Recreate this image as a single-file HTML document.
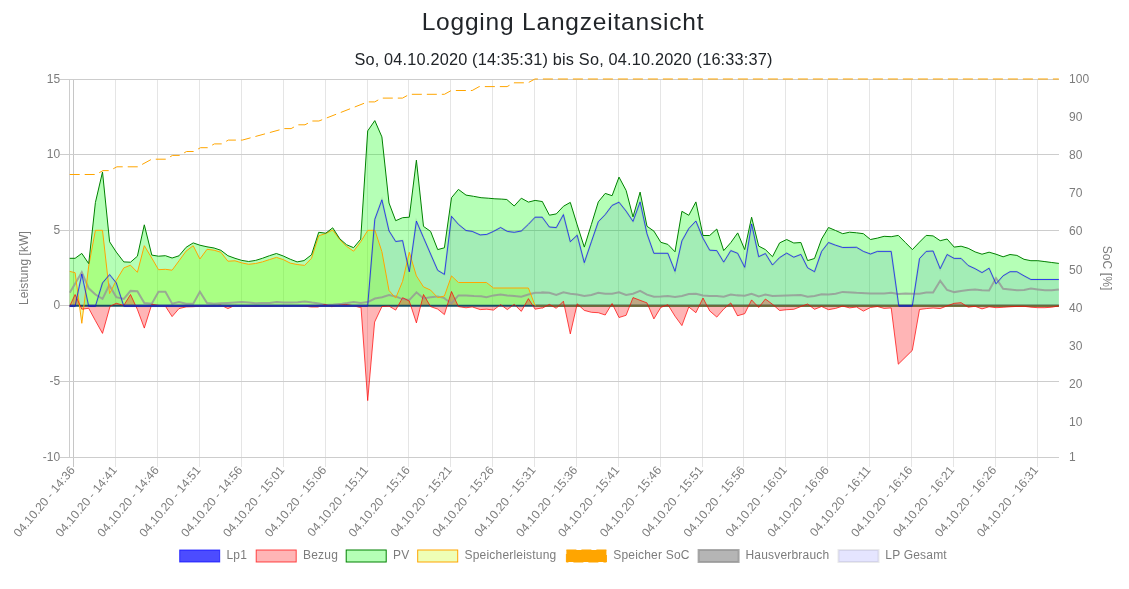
<!DOCTYPE html>
<html lang="de"><head><meta charset="utf-8"><title>Logging Langzeitansicht</title>
<style>
html,body{margin:0;padding:0;background:#fff;}
body{width:1129px;height:589px;overflow:hidden;position:relative;font-family:"Liberation Sans",sans-serif;color:#212529;}
#title{position:absolute;left:0;top:4.5px;width:1126px;text-align:center;font-size:24.5px;letter-spacing:0.8px;line-height:34px;white-space:nowrap;}
#sub{position:absolute;left:0;top:48.4px;width:1127px;text-align:center;font-size:16.3px;letter-spacing:0.18px;line-height:22px;white-space:nowrap;}
svg{position:absolute;left:0;top:0;}
#title,#sub,svg{will-change:transform;}
svg text{font-family:"Liberation Sans",sans-serif;font-size:12px;fill:#7c7c7c;letter-spacing:0.1px;}
</style></head><body>
<div id="title">Logging Langzeitansicht</div>
<div id="sub">So, 04.10.2020 (14:35:31) bis So, 04.10.2020 (16:33:37)</div>
<svg width="1129" height="589" viewBox="0 0 1129 589">
<g stroke="rgba(0,0,0,0.1)" stroke-width="1" fill="none" shape-rendering="crispEdges">
<line x1="73.5" y1="79.0" x2="73.5" y2="467.0" stroke="#c6c6c6"/>
<line x1="115.5" y1="79.0" x2="115.5" y2="467.0"/>
<line x1="157.5" y1="79.0" x2="157.5" y2="467.0"/>
<line x1="199.5" y1="79.0" x2="199.5" y2="467.0"/>
<line x1="241.5" y1="79.0" x2="241.5" y2="467.0"/>
<line x1="283.5" y1="79.0" x2="283.5" y2="467.0"/>
<line x1="325.5" y1="79.0" x2="325.5" y2="467.0"/>
<line x1="367.5" y1="79.0" x2="367.5" y2="467.0"/>
<line x1="408.5" y1="79.0" x2="408.5" y2="467.0"/>
<line x1="450.5" y1="79.0" x2="450.5" y2="467.0"/>
<line x1="492.5" y1="79.0" x2="492.5" y2="467.0"/>
<line x1="534.5" y1="79.0" x2="534.5" y2="467.0"/>
<line x1="576.5" y1="79.0" x2="576.5" y2="467.0"/>
<line x1="618.5" y1="79.0" x2="618.5" y2="467.0"/>
<line x1="660.5" y1="79.0" x2="660.5" y2="467.0"/>
<line x1="702.5" y1="79.0" x2="702.5" y2="467.0"/>
<line x1="743.5" y1="79.0" x2="743.5" y2="467.0"/>
<line x1="785.5" y1="79.0" x2="785.5" y2="467.0"/>
<line x1="827.5" y1="79.0" x2="827.5" y2="467.0"/>
<line x1="869.5" y1="79.0" x2="869.5" y2="467.0"/>
<line x1="911.5" y1="79.0" x2="911.5" y2="467.0"/>
<line x1="953.5" y1="79.0" x2="953.5" y2="467.0"/>
<line x1="995.5" y1="79.0" x2="995.5" y2="467.0"/>
<line x1="1037.5" y1="79.0" x2="1037.5" y2="467.0"/>
<line x1="69.5" y1="79.0" x2="69.5" y2="457.5" stroke="#cdcdcd"/>
<line x1="59.5" y1="79.5" x2="1059.0" y2="79.5" stroke="#cdcdcd"/>
<line x1="59.5" y1="154.5" x2="1059.0" y2="154.5" stroke="#cdcdcd"/>
<line x1="59.5" y1="230.5" x2="1059.0" y2="230.5" stroke="#cdcdcd"/>
<line x1="59.5" y1="305.5" x2="1059.0" y2="305.5" stroke="#cdcdcd"/>
<line x1="59.5" y1="381.5" x2="1059.0" y2="381.5" stroke="#cdcdcd"/>
<line x1="59.5" y1="457.5" x2="1059.0" y2="457.5" stroke="#cdcdcd"/>
</g>
<clipPath id="ca"><rect x="68.9" y="78.0" width="991.1" height="380.0"/></clipPath><g clip-path="url(#ca)">
<polygon points="69.7,305.8 69.7,306.2 75.1,306.2 81.8,274.1 88.7,306.2 95.4,306.2 102.5,282.9 109.6,274.6 116.3,282.9 123.8,306.2 367.7,305.7 374.8,219.3 381.9,199.8 389.0,230.8 395.7,241.5 402.6,240.6 409.3,271.8 416.4,221.1 423.5,237.6 430.6,254.0 437.7,270.3 444.4,274.4 451.5,216.3 458.4,224.3 466.0,230.5 472.2,231.4 480.2,234.9 486.8,234.4 493.5,231.4 500.6,227.5 507.3,231.4 514.2,232.3 521.3,231.0 528.4,224.3 535.1,217.2 542.2,217.2 549.4,227.0 556.3,227.6 563.4,214.6 570.3,241.7 577.2,235.2 584.3,262.6 591.4,241.7 598.3,221.7 605.2,214.6 612.1,205.4 619.0,202.2 626.1,211.1 633.0,221.4 640.1,201.9 647.0,233.8 653.9,253.3 660.8,253.3 667.9,253.3 675.0,271.3 681.9,240.9 688.8,228.5 695.9,221.0 703.0,238.2 709.7,250.2 716.8,250.6 723.7,262.1 730.8,250.6 737.7,253.3 744.7,267.3 751.6,223.9 758.7,256.7 765.4,253.5 772.5,265.0 779.6,257.6 786.7,253.1 793.8,257.2 800.9,254.4 807.6,267.8 814.5,271.7 821.6,251.4 828.5,242.5 835.6,245.2 842.7,247.5 856.5,247.3 863.4,251.4 870.5,254.0 877.4,251.4 891.2,251.4 898.8,305.9 912.3,305.9 919.5,258.6 926.2,251.4 933.1,251.0 940.2,268.7 947.1,254.5 954.2,258.4 961.1,258.4 968.2,265.5 975.1,268.7 982.0,272.6 989.1,268.2 996.0,283.8 1003.1,275.8 1010.0,271.7 1016.9,271.7 1024.0,275.8 1030.9,279.5 1058.9,279.5 1058.9,305.8" fill="rgba(0,0,255,0.10)" stroke="none"/>
<polygon points="69.7,305.8 69.7,271.4 75.1,272.7 81.8,323.3 88.7,266.1 95.4,230.3 102.5,230.3 109.6,293.6 116.3,280.3 123.8,267.9 130.5,265.2 137.4,272.3 144.3,245.7 151.8,258.1 158.5,269.7 165.4,269.3 172.1,270.2 179.0,260.8 186.1,251.1 193.2,245.7 199.9,259.0 207.0,249.3 214.1,250.2 220.9,252.3 227.9,261.2 235.0,260.8 241.8,262.9 248.7,264.3 255.6,263.5 262.4,261.9 269.5,259.6 276.4,257.4 283.3,259.6 290.2,263.1 297.1,264.5 304.6,265.4 311.5,258.3 318.7,235.8 325.8,233.5 332.7,230.0 339.8,239.7 346.5,246.3 353.6,251.2 360.7,241.8 367.8,230.3 374.9,230.3 381.9,251.7 389.0,290.5 395.7,298.1 402.6,281.3 409.3,252.3 416.4,275.9 423.5,286.9 430.6,290.1 437.7,297.6 444.4,296.0 451.5,275.9 458.4,282.5 486.4,282.5 493.5,288.0 528.4,288.0 535.1,305.7 1058.9,306.0 1058.9,305.8" fill="rgba(200,255,13,0.3)" stroke="none"/>
<polygon points="69.7,305.8 69.7,258.3 75.1,258.3 81.8,253.4 88.7,263.6 95.4,202.5 102.5,172.0 109.6,241.8 116.3,252.1 123.8,261.9 130.5,262.2 137.4,256.2 144.3,224.8 151.8,255.1 158.5,256.2 165.4,255.7 172.1,258.0 179.0,255.8 186.1,247.3 193.2,242.9 199.9,245.2 207.0,246.8 214.1,248.0 220.9,250.3 227.9,255.7 235.0,258.3 241.8,260.4 248.7,261.5 255.6,260.4 262.4,258.3 269.5,255.7 276.4,253.5 283.3,256.0 290.2,259.2 297.1,261.9 304.0,260.6 311.5,254.8 318.7,232.3 325.8,233.2 332.7,227.8 339.8,238.8 346.5,244.7 353.6,247.7 360.7,239.2 367.7,130.9 374.8,120.6 381.9,136.9 389.0,203.0 395.7,220.7 402.6,217.7 409.3,217.2 416.4,160.1 423.5,226.4 430.6,231.4 437.7,249.6 444.4,247.8 451.5,197.7 458.4,189.4 466.0,195.1 473.5,196.3 481.1,197.7 488.2,198.2 494.9,198.8 501.8,199.1 506.8,199.5 514.2,206.0 521.3,198.2 528.4,202.1 535.1,200.4 542.1,201.5 542.2,201.3 549.4,215.2 556.3,213.9 563.4,206.3 570.3,202.4 577.2,224.9 584.3,247.1 591.4,224.4 598.3,201.9 605.2,193.4 612.1,195.7 619.0,177.1 626.1,190.4 633.0,216.9 640.1,192.1 647.0,226.3 653.9,231.1 660.8,242.3 667.9,244.4 675.0,251.8 681.9,211.3 688.8,215.3 695.9,201.9 703.0,235.5 709.7,235.5 716.8,229.0 723.7,250.6 730.8,242.6 737.7,232.9 744.7,249.6 751.6,217.2 758.7,246.1 765.4,249.6 772.5,256.7 779.6,242.9 786.7,239.5 793.8,243.0 800.9,242.5 807.6,260.6 814.5,258.5 821.6,239.0 828.5,227.5 835.6,230.5 842.7,233.7 849.6,232.2 856.5,232.8 863.4,233.7 870.5,239.5 877.4,238.1 884.1,236.3 891.2,236.7 898.3,235.4 905.4,242.5 912.4,249.6 919.5,242.1 926.2,235.4 933.1,235.9 940.2,240.7 947.1,239.0 954.2,247.1 961.1,246.2 968.2,248.3 975.1,251.9 982.0,254.2 989.1,252.2 996.0,254.2 1003.1,256.8 1010.0,254.5 1016.9,255.4 1024.0,259.3 1030.9,260.7 1037.8,260.7 1044.9,261.6 1051.8,262.5 1058.9,263.4 1058.9,305.8" fill="rgba(10,255,13,0.3)" stroke="none"/>
<polygon points="69.7,305.8 69.7,306.2 75.1,294.5 81.8,309.2 88.7,308.3 95.4,320.7 102.5,333.4 110.1,306.2 116.3,303.3 123.8,305.4 130.5,294.5 137.4,309.5 144.3,328.1 151.8,304.2 158.5,305.4 165.4,306.2 172.1,316.6 179.0,308.6 186.1,306.9 193.2,306.7 199.9,306.2 207.0,306.2 214.1,305.8 220.9,305.1 227.9,308.6 235.0,305.4 241.8,305.8 248.7,306.2 255.6,306.2 262.4,305.6 269.5,306.0 276.4,305.6 283.3,305.6 290.2,305.6 297.1,305.6 304.0,306.0 311.1,307.0 318.0,307.0 324.9,304.4 331.8,306.7 338.8,305.3 345.8,304.4 352.7,305.6 359.7,307.4 361.0,307.1 367.7,400.6 374.6,322.1 381.9,306.6 389.0,306.1 395.7,310.1 402.6,297.7 409.3,301.1 416.4,322.9 423.5,294.5 430.6,306.6 437.7,309.1 444.4,314.6 451.5,291.5 458.4,306.6 466.0,307.8 472.2,306.9 480.2,309.6 486.8,309.2 493.5,310.1 500.6,304.6 507.3,309.6 514.2,304.3 521.3,311.4 528.4,298.6 535.1,309.2 542.1,307.9 542.2,308.2 549.4,304.4 556.3,308.3 563.4,301.2 570.3,333.9 577.2,303.8 584.3,310.4 591.4,312.3 598.3,312.7 605.2,315.0 612.1,303.5 619.0,317.5 626.1,315.3 633.0,297.6 640.1,300.3 647.0,302.9 653.9,318.9 660.8,307.4 667.9,304.7 675.0,316.2 681.9,325.6 688.8,307.0 695.9,312.7 703.0,298.0 709.7,310.9 716.8,317.1 723.7,309.1 730.8,302.9 737.6,315.9 737.7,315.7 744.7,313.7 751.6,299.9 758.7,307.5 765.4,299.0 772.5,304.3 779.6,310.5 786.7,309.7 793.8,309.3 800.9,306.5 807.6,304.0 814.5,309.3 821.6,306.5 828.5,309.7 835.6,308.4 842.7,306.1 849.6,307.9 856.5,307.0 863.4,311.1 870.5,307.5 877.4,306.5 884.1,308.4 891.2,307.9 898.3,364.2 912.3,350.4 919.5,309.5 926.2,308.6 933.1,308.0 940.2,308.6 947.1,305.9 954.2,303.3 961.1,302.7 968.2,307.2 975.1,306.3 982.0,308.9 989.1,306.8 996.0,307.7 1003.1,307.3 1010.0,306.8 1016.9,306.4 1024.0,306.3 1030.9,307.2 1037.8,307.7 1044.9,307.7 1051.8,307.2 1058.9,305.9 1058.9,305.8" fill="rgba(255,10,13,0.3)" stroke="none"/>
<polyline points="69.7,306.2 75.1,306.2 81.8,274.1 88.7,306.2 95.4,306.2 102.5,282.9 109.6,274.6 116.3,282.9 123.8,306.2 367.7,305.7 374.8,219.3 381.9,199.8 389.0,230.8 395.7,241.5 402.6,240.6 409.3,271.8 416.4,221.1 423.5,237.6 430.6,254.0 437.7,270.3 444.4,274.4 451.5,216.3 458.4,224.3 466.0,230.5 472.2,231.4 480.2,234.9 486.8,234.4 493.5,231.4 500.6,227.5 507.3,231.4 514.2,232.3 521.3,231.0 528.4,224.3 535.1,217.2 542.2,217.2 549.4,227.0 556.3,227.6 563.4,214.6 570.3,241.7 577.2,235.2 584.3,262.6 591.4,241.7 598.3,221.7 605.2,214.6 612.1,205.4 619.0,202.2 626.1,211.1 633.0,221.4 640.1,201.9 647.0,233.8 653.9,253.3 660.8,253.3 667.9,253.3 675.0,271.3 681.9,240.9 688.8,228.5 695.9,221.0 703.0,238.2 709.7,250.2 716.8,250.6 723.7,262.1 730.8,250.6 737.7,253.3 744.7,267.3 751.6,223.9 758.7,256.7 765.4,253.5 772.5,265.0 779.6,257.6 786.7,253.1 793.8,257.2 800.9,254.4 807.6,267.8 814.5,271.7 821.6,251.4 828.5,242.5 835.6,245.2 842.7,247.5 856.5,247.3 863.4,251.4 870.5,254.0 877.4,251.4 891.2,251.4 898.8,305.9 912.3,305.9 919.5,258.6 926.2,251.4 933.1,251.0 940.2,268.7 947.1,254.5 954.2,258.4 961.1,258.4 968.2,265.5 975.1,268.7 982.0,272.6 989.1,268.2 996.0,283.8 1003.1,275.8 1010.0,271.7 1016.9,271.7 1024.0,275.8 1030.9,279.5 1058.9,279.5" fill="none" stroke="rgba(50,50,55,0.1)" stroke-width="2" stroke-linejoin="miter"/>
<polyline points="69.7,292.7 75.1,283.8 81.8,272.3 88.7,288.3 95.4,294.5 102.5,298.9 109.2,285.2 116.3,297.1 123.8,298.9 130.5,290.9 137.4,291.3 144.3,303.0 151.8,303.7 158.5,291.8 165.4,291.8 172.1,303.7 179.0,302.1 186.1,303.7 193.2,303.7 199.9,291.8 207.0,303.0 214.1,303.7 220.9,303.3 227.9,303.0 235.0,302.6 241.8,302.1 248.7,302.4 255.6,303.3 262.4,303.0 269.5,303.1 276.6,302.1 283.7,302.4 290.7,302.6 297.8,302.2 304.9,301.4 312.0,302.6 319.1,303.5 326.2,304.9 333.3,304.6 342.1,303.8 347.4,303.1 353.6,302.1 360.7,303.1 367.8,302.1 374.9,298.5 382.0,297.3 389.1,295.0 395.6,296.4 402.3,299.1 409.4,299.9 416.5,292.3 423.6,298.5 430.3,297.3 437.8,296.4 444.4,298.1 444.5,298.5 451.5,303.4 458.4,295.4 466.0,295.4 474.0,296.0 481.1,296.3 486.4,297.2 493.5,295.4 500.6,294.5 507.3,295.4 514.2,296.0 521.3,296.8 528.4,294.5 535.1,292.8 542.1,292.7 542.2,292.4 549.4,292.7 556.3,295.0 563.4,292.3 570.3,293.7 577.2,294.4 584.3,295.9 591.4,295.0 598.3,292.8 605.2,293.7 612.1,293.7 619.0,292.3 626.1,295.0 633.0,293.7 640.1,290.9 647.0,294.6 653.9,296.7 660.8,296.4 667.9,295.9 675.0,297.1 681.9,295.9 688.8,294.1 695.9,293.7 703.0,295.5 709.7,295.9 716.8,295.9 723.7,296.7 730.8,294.6 737.6,295.5 737.7,295.3 744.7,295.8 751.6,293.7 758.7,296.4 765.4,294.6 772.5,296.0 786.7,295.5 800.9,295.1 807.6,296.7 814.5,296.0 821.6,294.2 828.5,294.6 835.6,293.7 842.7,291.9 856.5,292.8 870.5,293.4 884.1,293.4 891.2,292.8 898.3,294.1 905.4,293.4 912.3,293.7 919.5,293.7 926.2,292.6 933.1,292.6 940.2,280.8 947.1,290.0 954.2,292.1 961.1,290.9 968.2,290.0 975.1,289.6 982.0,290.3 989.1,290.5 996.0,278.1 1003.1,288.7 1010.0,289.4 1016.9,290.3 1024.0,290.0 1030.9,288.6 1037.8,289.4 1044.9,290.3 1051.8,290.3 1058.9,289.4" fill="none" stroke="rgba(150,150,150,0.8)" stroke-width="2" stroke-linejoin="miter"/>
<polyline points="69.7,174.5 96.0,174.5 103.0,170.6 109.9,170.6 116.9,166.8 137.8,166.8 151.7,159.2 165.7,159.2 172.6,155.4 179.6,155.4 186.6,151.5 193.5,151.5 200.5,147.7 207.5,147.7 214.4,143.9 221.4,143.9 228.4,140.1 242.3,140.1 284.1,128.6 291.1,128.6 298.0,124.8 305.0,124.8 312.0,121.0 318.9,121.0 367.7,101.9 374.7,101.9 381.6,98.1 402.5,98.1 409.5,94.3 444.4,94.3 451.3,90.5 472.2,90.5 479.2,86.6 507.1,86.6 514.0,82.8 528.0,82.8 534.9,79.0 1058.8,79.0" fill="none" stroke="orange" stroke-width="1" stroke-linejoin="miter" stroke-dasharray="10,5"/>
<polyline points="69.7,305.8 1058.9,305.8" fill="none" stroke="rgb(22,78,98)" stroke-width="2" stroke-linejoin="miter"/>
<polyline points="69.7,271.4 75.1,272.7 81.8,323.3 88.7,266.1 95.4,230.3 102.5,230.3 109.6,293.6 116.3,280.3 123.8,267.9 130.5,265.2 137.4,272.3 144.3,245.7 151.8,258.1 158.5,269.7 165.4,269.3 172.1,270.2 179.0,260.8 186.1,251.1 193.2,245.7 199.9,259.0 207.0,249.3 214.1,250.2 220.9,252.3 227.9,261.2 235.0,260.8 241.8,262.9 248.7,264.3 255.6,263.5 262.4,261.9 269.5,259.6 276.4,257.4 283.3,259.6 290.2,263.1 297.1,264.5 304.6,265.4 311.5,258.3 318.7,235.8 325.8,233.5 332.7,230.0 339.8,239.7 346.5,246.3 353.6,251.2 360.7,241.8 367.8,230.3 374.9,230.3 381.9,251.7 389.0,290.5 395.7,298.1 402.6,281.3 409.3,252.3 416.4,275.9 423.5,286.9 430.6,290.1 437.7,297.6 444.4,296.0 451.5,275.9 458.4,282.5 486.4,282.5 493.5,288.0 528.4,288.0 535.1,305.7 1058.9,306.0" fill="none" stroke="orange" stroke-width="1" stroke-linejoin="miter"/>
<polyline points="535.6,305.8 1058.9,305.8" fill="none" stroke="rgb(108,104,58)" stroke-width="2" stroke-linejoin="miter"/>
<polyline points="69.7,258.3 75.1,258.3 81.8,253.4 88.7,263.6 95.4,202.5 102.5,172.0 109.6,241.8 116.3,252.1 123.8,261.9 130.5,262.2 137.4,256.2 144.3,224.8 151.8,255.1 158.5,256.2 165.4,255.7 172.1,258.0 179.0,255.8 186.1,247.3 193.2,242.9 199.9,245.2 207.0,246.8 214.1,248.0 220.9,250.3 227.9,255.7 235.0,258.3 241.8,260.4 248.7,261.5 255.6,260.4 262.4,258.3 269.5,255.7 276.4,253.5 283.3,256.0 290.2,259.2 297.1,261.9 304.0,260.6 311.5,254.8 318.7,232.3 325.8,233.2 332.7,227.8 339.8,238.8 346.5,244.7 353.6,247.7 360.7,239.2 367.7,130.9 374.8,120.6 381.9,136.9 389.0,203.0 395.7,220.7 402.6,217.7 409.3,217.2 416.4,160.1 423.5,226.4 430.6,231.4 437.7,249.6 444.4,247.8 451.5,197.7 458.4,189.4 466.0,195.1 473.5,196.3 481.1,197.7 488.2,198.2 494.9,198.8 501.8,199.1 506.8,199.5 514.2,206.0 521.3,198.2 528.4,202.1 535.1,200.4 542.1,201.5 542.2,201.3 549.4,215.2 556.3,213.9 563.4,206.3 570.3,202.4 577.2,224.9 584.3,247.1 591.4,224.4 598.3,201.9 605.2,193.4 612.1,195.7 619.0,177.1 626.1,190.4 633.0,216.9 640.1,192.1 647.0,226.3 653.9,231.1 660.8,242.3 667.9,244.4 675.0,251.8 681.9,211.3 688.8,215.3 695.9,201.9 703.0,235.5 709.7,235.5 716.8,229.0 723.7,250.6 730.8,242.6 737.7,232.9 744.7,249.6 751.6,217.2 758.7,246.1 765.4,249.6 772.5,256.7 779.6,242.9 786.7,239.5 793.8,243.0 800.9,242.5 807.6,260.6 814.5,258.5 821.6,239.0 828.5,227.5 835.6,230.5 842.7,233.7 849.6,232.2 856.5,232.8 863.4,233.7 870.5,239.5 877.4,238.1 884.1,236.3 891.2,236.7 898.3,235.4 905.4,242.5 912.4,249.6 919.5,242.1 926.2,235.4 933.1,235.9 940.2,240.7 947.1,239.0 954.2,247.1 961.1,246.2 968.2,248.3 975.1,251.9 982.0,254.2 989.1,252.2 996.0,254.2 1003.1,256.8 1010.0,254.5 1016.9,255.4 1024.0,259.3 1030.9,260.7 1037.8,260.7 1044.9,261.6 1051.8,262.5 1058.9,263.4" fill="none" stroke="green" stroke-width="1" stroke-linejoin="miter"/>
<polyline points="69.7,306.2 75.1,294.5 81.8,309.2 88.7,308.3 95.4,320.7 102.5,333.4 110.1,306.2 116.3,303.3 123.8,305.4 130.5,294.5 137.4,309.5 144.3,328.1 151.8,304.2 158.5,305.4 165.4,306.2 172.1,316.6 179.0,308.6 186.1,306.9 193.2,306.7 199.9,306.2 207.0,306.2 214.1,305.8 220.9,305.1 227.9,308.6 235.0,305.4 241.8,305.8 248.7,306.2 255.6,306.2 262.4,305.6 269.5,306.0 276.4,305.6 283.3,305.6 290.2,305.6 297.1,305.6 304.0,306.0 311.1,307.0 318.0,307.0 324.9,304.4 331.8,306.7 338.8,305.3 345.8,304.4 352.7,305.6 359.7,307.4 361.0,307.1 367.7,400.6 374.6,322.1 381.9,306.6 389.0,306.1 395.7,310.1 402.6,297.7 409.3,301.1 416.4,322.9 423.5,294.5 430.6,306.6 437.7,309.1 444.4,314.6 451.5,291.5 458.4,306.6 466.0,307.8 472.2,306.9 480.2,309.6 486.8,309.2 493.5,310.1 500.6,304.6 507.3,309.6 514.2,304.3 521.3,311.4 528.4,298.6 535.1,309.2 542.1,307.9 542.2,308.2 549.4,304.4 556.3,308.3 563.4,301.2 570.3,333.9 577.2,303.8 584.3,310.4 591.4,312.3 598.3,312.7 605.2,315.0 612.1,303.5 619.0,317.5 626.1,315.3 633.0,297.6 640.1,300.3 647.0,302.9 653.9,318.9 660.8,307.4 667.9,304.7 675.0,316.2 681.9,325.6 688.8,307.0 695.9,312.7 703.0,298.0 709.7,310.9 716.8,317.1 723.7,309.1 730.8,302.9 737.6,315.9 737.7,315.7 744.7,313.7 751.6,299.9 758.7,307.5 765.4,299.0 772.5,304.3 779.6,310.5 786.7,309.7 793.8,309.3 800.9,306.5 807.6,304.0 814.5,309.3 821.6,306.5 828.5,309.7 835.6,308.4 842.7,306.1 849.6,307.9 856.5,307.0 863.4,311.1 870.5,307.5 877.4,306.5 884.1,308.4 891.2,307.9 898.3,364.2 912.3,350.4 919.5,309.5 926.2,308.6 933.1,308.0 940.2,308.6 947.1,305.9 954.2,303.3 961.1,302.7 968.2,307.2 975.1,306.3 982.0,308.9 989.1,306.8 996.0,307.7 1003.1,307.3 1010.0,306.8 1016.9,306.4 1024.0,306.3 1030.9,307.2 1037.8,307.7 1044.9,307.7 1051.8,307.2 1058.9,305.9" fill="none" stroke="rgba(255,0,0,0.7)" stroke-width="1" stroke-linejoin="miter"/>
<polyline points="69.7,306.2 75.1,306.2 81.8,274.1 88.7,306.2 95.4,306.2 102.5,282.9 109.6,274.6 116.3,282.9 123.8,306.2 367.7,305.7 374.8,219.3 381.9,199.8 389.0,230.8 395.7,241.5 402.6,240.6 409.3,271.8 416.4,221.1 423.5,237.6 430.6,254.0 437.7,270.3 444.4,274.4 451.5,216.3 458.4,224.3 466.0,230.5 472.2,231.4 480.2,234.9 486.8,234.4 493.5,231.4 500.6,227.5 507.3,231.4 514.2,232.3 521.3,231.0 528.4,224.3 535.1,217.2 542.2,217.2 549.4,227.0 556.3,227.6 563.4,214.6 570.3,241.7 577.2,235.2 584.3,262.6 591.4,241.7 598.3,221.7 605.2,214.6 612.1,205.4 619.0,202.2 626.1,211.1 633.0,221.4 640.1,201.9 647.0,233.8 653.9,253.3 660.8,253.3 667.9,253.3 675.0,271.3 681.9,240.9 688.8,228.5 695.9,221.0 703.0,238.2 709.7,250.2 716.8,250.6 723.7,262.1 730.8,250.6 737.7,253.3 744.7,267.3 751.6,223.9 758.7,256.7 765.4,253.5 772.5,265.0 779.6,257.6 786.7,253.1 793.8,257.2 800.9,254.4 807.6,267.8 814.5,271.7 821.6,251.4 828.5,242.5 835.6,245.2 842.7,247.5 856.5,247.3 863.4,251.4 870.5,254.0 877.4,251.4 891.2,251.4 898.8,305.9 912.3,305.9 919.5,258.6 926.2,251.4 933.1,251.0 940.2,268.7 947.1,254.5 954.2,258.4 961.1,258.4 968.2,265.5 975.1,268.7 982.0,272.6 989.1,268.2 996.0,283.8 1003.1,275.8 1010.0,271.7 1016.9,271.7 1024.0,275.8 1030.9,279.5 1058.9,279.5" fill="none" stroke="rgba(0,0,255,0.7)" stroke-width="1" stroke-linejoin="miter"/>
<polyline points="69.7,305.8 75.1,305.8" fill="none" stroke="rgb(34,46,165)" stroke-width="2" stroke-linejoin="miter"/>
<polyline points="88.9,305.8 95.6,305.8" fill="none" stroke="rgb(34,46,165)" stroke-width="2" stroke-linejoin="miter"/>
<polyline points="123.9,305.8 367.7,305.8" fill="none" stroke="rgb(34,46,165)" stroke-width="2" stroke-linejoin="miter"/>
<polyline points="898.8,305.8 912.3,305.8" fill="none" stroke="rgb(34,46,165)" stroke-width="2" stroke-linejoin="miter"/>
</g>
<g text-anchor="end">
<text x="60.300000000000004" y="83.0">15</text>
<text x="60.300000000000004" y="157.8">10</text>
<text x="60.300000000000004" y="234.2">5</text>
<text x="60.300000000000004" y="309.4">0</text>
<text x="60.300000000000004" y="385.4">-5</text>
<text x="60.300000000000004" y="461.0">-10</text>
</g><g text-anchor="start">
<text x="1069.0" y="83.1">100</text>
<text x="1069.0" y="121.2">90</text>
<text x="1069.0" y="159.2">80</text>
<text x="1069.0" y="197.3">70</text>
<text x="1069.0" y="235.3">60</text>
<text x="1069.0" y="274.4">50</text>
<text x="1069.0" y="311.5">40</text>
<text x="1069.0" y="349.5">30</text>
<text x="1069.0" y="387.6">20</text>
<text x="1069.0" y="425.6">10</text>
<text x="1069.0" y="461.1">1</text>
</g>
<text text-anchor="middle" transform="translate(28,268) rotate(-90)">Leistung [kW]</text>
<text text-anchor="middle" transform="translate(1103.3,268) rotate(90)">SoC [%]</text>
<g text-anchor="end">
<text transform="translate(72.6,467.8) rotate(-50)" dy="4" style="letter-spacing:0.04px">04.10.20 - 14:36</text>
<text transform="translate(114.5,467.8) rotate(-50)" dy="4" style="letter-spacing:0.04px">04.10.20 - 14:41</text>
<text transform="translate(156.4,467.8) rotate(-50)" dy="4" style="letter-spacing:0.04px">04.10.20 - 14:46</text>
<text transform="translate(198.3,467.8) rotate(-50)" dy="4" style="letter-spacing:0.04px">04.10.20 - 14:51</text>
<text transform="translate(240.1,467.8) rotate(-50)" dy="4" style="letter-spacing:0.04px">04.10.20 - 14:56</text>
<text transform="translate(282.0,467.8) rotate(-50)" dy="4" style="letter-spacing:0.04px">04.10.20 - 15:01</text>
<text transform="translate(323.9,467.8) rotate(-50)" dy="4" style="letter-spacing:0.04px">04.10.20 - 15:06</text>
<text transform="translate(365.8,467.8) rotate(-50)" dy="4" style="letter-spacing:0.04px">04.10.20 - 15:11</text>
<text transform="translate(407.6,467.8) rotate(-50)" dy="4" style="letter-spacing:0.04px">04.10.20 - 15:16</text>
<text transform="translate(449.5,467.8) rotate(-50)" dy="4" style="letter-spacing:0.04px">04.10.20 - 15:21</text>
<text transform="translate(491.4,467.8) rotate(-50)" dy="4" style="letter-spacing:0.04px">04.10.20 - 15:26</text>
<text transform="translate(533.3,467.8) rotate(-50)" dy="4" style="letter-spacing:0.04px">04.10.20 - 15:31</text>
<text transform="translate(575.1,467.8) rotate(-50)" dy="4" style="letter-spacing:0.04px">04.10.20 - 15:36</text>
<text transform="translate(617.0,467.8) rotate(-50)" dy="4" style="letter-spacing:0.04px">04.10.20 - 15:41</text>
<text transform="translate(658.9,467.8) rotate(-50)" dy="4" style="letter-spacing:0.04px">04.10.20 - 15:46</text>
<text transform="translate(700.8,467.8) rotate(-50)" dy="4" style="letter-spacing:0.04px">04.10.20 - 15:51</text>
<text transform="translate(742.6,467.8) rotate(-50)" dy="4" style="letter-spacing:0.04px">04.10.20 - 15:56</text>
<text transform="translate(784.5,467.8) rotate(-50)" dy="4" style="letter-spacing:0.04px">04.10.20 - 16:01</text>
<text transform="translate(826.4,467.8) rotate(-50)" dy="4" style="letter-spacing:0.04px">04.10.20 - 16:06</text>
<text transform="translate(868.3,467.8) rotate(-50)" dy="4" style="letter-spacing:0.04px">04.10.20 - 16:11</text>
<text transform="translate(910.1,467.8) rotate(-50)" dy="4" style="letter-spacing:0.04px">04.10.20 - 16:16</text>
<text transform="translate(952.0,467.8) rotate(-50)" dy="4" style="letter-spacing:0.04px">04.10.20 - 16:21</text>
<text transform="translate(993.9,467.8) rotate(-50)" dy="4" style="letter-spacing:0.04px">04.10.20 - 16:26</text>
<text transform="translate(1035.8,467.8) rotate(-50)" dy="4" style="letter-spacing:0.04px">04.10.20 - 16:31</text>
</g>
<rect x="179.7" y="550.0" width="40" height="12" fill="rgba(0,0,255,0.7)" stroke="rgba(0,0,255,0.7)" stroke-width="1"/>
<text x="226.5" y="559.2" style="letter-spacing:0.2px">Lp1</text>
<rect x="256.2" y="550.0" width="40" height="12" fill="rgba(255,10,13,0.3)" stroke="rgba(255,0,0,0.7)" stroke-width="1"/>
<text x="303.0" y="559.2" style="letter-spacing:0.2px">Bezug</text>
<rect x="346.2" y="550.0" width="40" height="12" fill="rgba(10,255,13,0.3)" stroke="green" stroke-width="1"/>
<text x="393.0" y="559.2" style="letter-spacing:0.2px">PV</text>
<rect x="417.7" y="550.0" width="40" height="12" fill="rgba(200,255,13,0.3)" stroke="orange" stroke-width="1"/>
<text x="464.5" y="559.2" style="letter-spacing:0.2px">Speicherleistung</text>
<rect x="566.4" y="550.0" width="40" height="12" fill="orange" stroke="orange" stroke-width="1" stroke-dasharray="10,5"/>
<text x="613.1999999999999" y="559.2" style="letter-spacing:0.2px">Speicher SoC</text>
<rect x="698.6" y="550.0" width="40" height="12" fill="rgba(150,150,150,0.7)" stroke="rgba(150,150,150,0.8)" stroke-width="2"/>
<text x="745.4" y="559.2" style="letter-spacing:0.2px">Hausverbrauch</text>
<rect x="838.5" y="550.0" width="40" height="12" fill="rgba(0,0,255,0.1)" stroke="rgba(50,50,55,0.1)" stroke-width="2"/>
<text x="885.3" y="559.2" style="letter-spacing:0.2px">LP Gesamt</text>
</svg></body></html>
